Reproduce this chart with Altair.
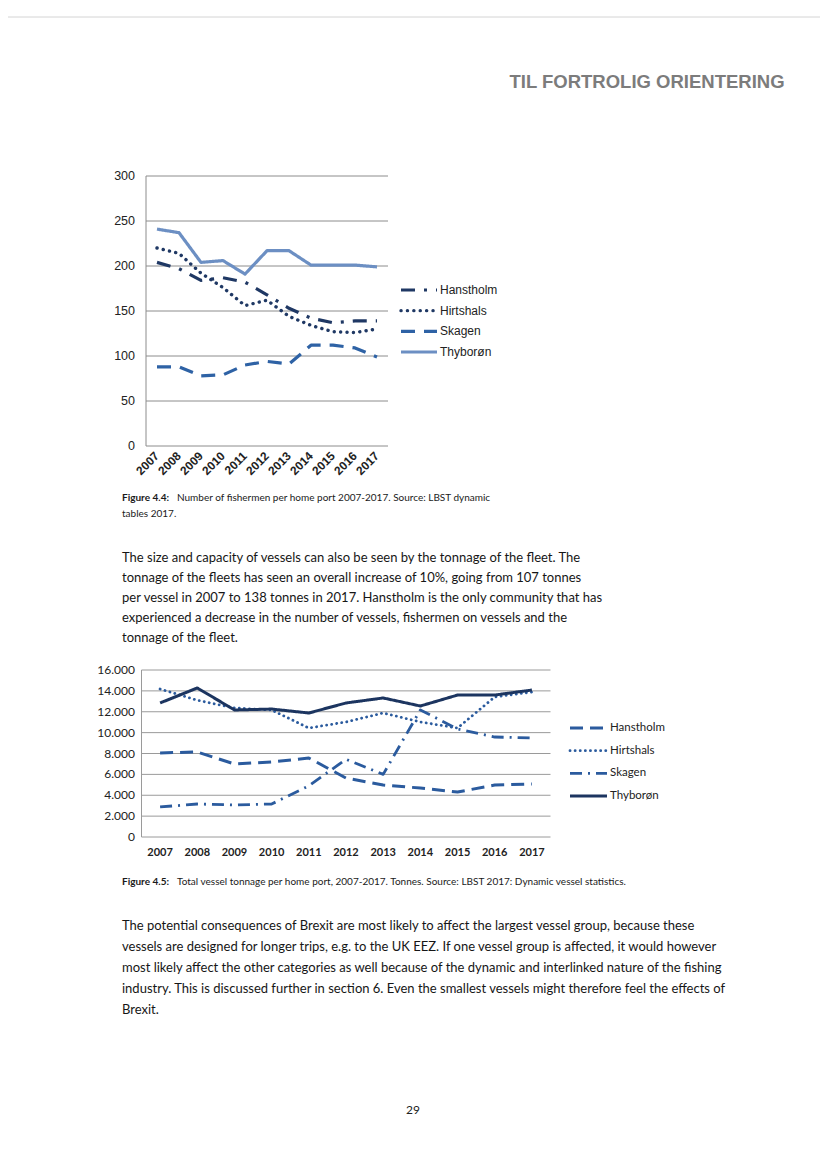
import altair as alt
import pandas as pd

# ---------------- data ----------------
YEARS = list(range(2007, 2018))
PORTS = ["Hanstholm", "Hirtshals", "Skagen", "Thyborøn"]

# Figure 4.4: number of fishermen per home port
FISH_HANSTHOLM = [204, 197, 184, 187, 182, 168, 153, 142, 137, 139, 139]
FISH_HIRTSHALS = [220, 214, 192, 176, 156, 162, 144, 134, 127, 126, 130]
FISH_SKAGEN = [88, 88, 78, 79, 90, 94, 91, 112, 112, 109, 99]
FISH_THYBORON = [241, 237, 204, 206, 191, 217, 217, 201, 201, 201, 199]
FISH_TICKS = [0, 50, 100, 150, 200, 250, 300]
FISH_TICK_LABELS = ["0", "50", "100", "150", "200", "250", "300"]

# Figure 4.5: total vessel tonnage per home port
TON_HANSTHOLM = [8050, 8150, 6990, 7190, 7570, 5650, 4980, 4690, 4310, 4980, 5080]
TON_HIRTSHALS = [14180, 13100, 12360, 12170, 10440, 11020, 11880, 11020, 10440, 13420, 13890]
TON_SKAGEN = [2880, 3160, 3070, 3160, 4900, 7450, 6000, 12170, 10350, 9580, 9490]
TON_THYBORON = [12840, 14280, 12170, 12260, 11880, 12840, 13320, 12550, 13600, 13600, 14080]
TON_TICKS = [0, 2000, 4000, 6000, 8000, 10000, 12000, 14000, 16000]
TON_TICK_LABELS = ["0", "2.000", "4.000", "6.000", "8.000", "10.000", "12.000", "14.000", "16.000"]

HEADER = "TIL FORTROLIG ORIENTERING"
CAP1_BOLD = "Figure 4.4:"
CAP1_LINE1 = "Number of fishermen per home port 2007-2017. Source: LBST dynamic"
CAP1_LINE2 = "tables 2017."
PARA1 = [
    "The size and capacity of vessels can also be seen by the tonnage of the fleet. The",
    "tonnage of the fleets has seen an overall increase of 10%, going from 107 tonnes",
    "per vessel in 2007 to 138 tonnes in 2017. Hanstholm is the only community that has",
    "experienced a decrease in the number of vessels, fishermen on vessels and the",
    "tonnage of the fleet.",
]
CAP2_BOLD = "Figure 4.5:"
CAP2_TEXT = "Total vessel tonnage per home port, 2007-2017. Tonnes. Source: LBST 2017: Dynamic vessel statistics."
PARA2 = [
    "The potential consequences of Brexit are most likely to affect the largest vessel group, because these",
    "vessels are designed for longer trips, e.g. to the UK EEZ. If one vessel group is affected, it would however",
    "most likely affect the other categories as well because of the dynamic and interlinked nature of the fishing",
    "industry. This is discussed further in section 6. Even the smallest vessels might therefore feel the effects of",
    "Brexit.",
]
PAGE_NO = "29"

# ---------------- tables ----------------
def long_table(cols):
    rows = []
    for port, vals in zip(PORTS, cols):
        for y, v in zip(YEARS, vals):
            rows.append({"port": port, "year": y, "value": v})
    return pd.DataFrame(rows)

fish_df = long_table([FISH_HANSTHOLM, FISH_HIRTSHALS, FISH_SKAGEN, FISH_THYBORON])
ton_df = long_table([TON_HANSTHOLM, TON_HIRTSHALS, TON_SKAGEN, TON_THYBORON])
fish_ticks = pd.DataFrame({"v": FISH_TICKS, "label": FISH_TICK_LABELS})
ton_ticks = pd.DataFrame({"v": TON_TICKS, "label": TON_TICK_LABELS})
years_df = pd.DataFrame({"year": YEARS, "label": [str(y) for y in YEARS]})
legend_df = pd.DataFrame({"port": PORTS})
one = alt.Data(values=[{"k": 1}])

# ---------------- layout (page px -> chart px) ----------------
M = 8
def P(v):
    return v - M

W, H = 828 - 2 * M, 1169 - 2 * M

X1 = alt.Scale(domain=[2006.5, 2017.5], range=[P(146), P(388)], nice=False, zero=False)
Y1 = alt.Scale(domain=[0, 300], range=[P(446), P(176)], nice=False, zero=False)
L1 = alt.Scale(type="point", domain=PORTS, range=[P(290), P(352)], padding=0)
X2 = alt.Scale(domain=[2006.5, 2017.5], range=[P(141.5), P(550.5)], nice=False, zero=False)
Y2 = alt.Scale(domain=[0, 16000], range=[P(837), P(670)], nice=False, zero=False)
L2 = alt.Scale(type="point", domain=PORTS, range=[P(728), P(796)], padding=0)

ARIAL = "Liberation Sans"
BODY = "Lato"
GRID1 = "#8c8c8c"
GRID2 = "#9a9a9a"
TEXT_X = 122

layers = []

# faint scan border line at top
layers.append(alt.Chart(one).mark_rule(color="#d4d4d4", strokeWidth=1).encode(
    x=alt.value(0), x2=alt.value(W), y=alt.value(P(17))))

# header stamp
layers.append(alt.Chart(one).mark_text(
    text=HEADER, font=ARIAL, fontWeight="bold", fontSize=18.5, color="#7c7c7c",
    align="center", baseline="alphabetic").encode(x=alt.value(P(647)), y=alt.value(P(88))))

# ---------- chart 1 ----------
layers.append(alt.Chart(fish_ticks).mark_rule(color=GRID1, strokeWidth=1).encode(
    y=alt.Y("v:Q", scale=Y1, axis=None),
    x=alt.datum(2006.5, scale=X1, axis=None), x2=alt.datum(2017.5)))
layers.append(alt.Chart(one).mark_rule(color=GRID1, strokeWidth=1).encode(
    x=alt.datum(2006.5, scale=X1, axis=None),
    y=alt.datum(0, scale=Y1, axis=None), y2=alt.datum(300)))
layers.append(alt.Chart(fish_ticks).mark_text(
    font=ARIAL, fontSize=12.5, color="#222222", align="right", baseline="middle").encode(
    y=alt.Y("v:Q", scale=Y1, axis=None), x=alt.value(P(135)), text="label:N"))
layers.append(alt.Chart(years_df).mark_text(
    font=ARIAL, fontSize=12, fontWeight="bold", color="#222222", angle=315,
    align="right", baseline="middle").encode(
    x=alt.X("year:Q", scale=X1, axis=None), y=alt.value(P(454)), text="label:N"))

style1 = {
    "Hanstholm": dict(color="#1f3864", strokeDash=[14, 9, 3, 9], strokeCap="butt", strokeWidth=3.2),
    "Hirtshals": dict(color="#1f3864", strokeDash=[0.1, 6.3], strokeCap="round", strokeWidth=3.4),
    "Skagen": dict(color="#2e62a5", strokeDash=[14, 9], strokeCap="butt", strokeWidth=3.2),
    "Thyborøn": dict(color="#6c8fc3", strokeDash=[1, 0], strokeCap="butt", strokeWidth=3.2),
}
for port in PORTS:
    st = style1[port]
    layers.append(alt.Chart(fish_df).transform_filter(alt.datum.port == port).mark_line(
        strokeJoin="round", **st).encode(
        x=alt.X("year:Q", scale=X1, axis=None), y=alt.Y("value:Q", scale=Y1, axis=None)))
    layers.append(alt.Chart(legend_df).transform_filter(alt.datum.port == port).mark_rule(**st).encode(
        y=alt.Y("port:N", scale=L1, axis=None), x=alt.value(P(401)), x2=alt.value(P(437))))
layers.append(alt.Chart(legend_df).mark_text(
    font=ARIAL, fontSize=12, color="#222222", align="left", baseline="middle").encode(
    y=alt.Y("port:N", scale=L1, axis=None), x=alt.value(P(440)), text="port:N"))

# caption 1
layers.append(alt.Chart(one).mark_text(
    text=CAP1_BOLD, font=BODY, fontSize=10, fontWeight="bold", color="#1a1a1a",
    align="left", baseline="middle").encode(x=alt.value(P(TEXT_X)), y=alt.value(P(498))))
layers.append(alt.Chart(one).mark_text(
    text=CAP1_LINE1, font=BODY, fontSize=10, color="#1a1a1a",
    align="left", baseline="middle").encode(x=alt.value(P(TEXT_X + 55)), y=alt.value(P(498))))
layers.append(alt.Chart(one).mark_text(
    text=CAP1_LINE2, font=BODY, fontSize=10, color="#1a1a1a",
    align="left", baseline="middle").encode(x=alt.value(P(TEXT_X)), y=alt.value(P(514))))

# paragraph 1
layers.append(alt.Chart(one).mark_text(
    text=PARA1, font=BODY, fontSize=13, lineHeight=20, color="#161616",
    align="left", baseline="middle").encode(x=alt.value(P(TEXT_X)), y=alt.value(P(558))))

# ---------- chart 2 ----------
layers.append(alt.Chart(ton_ticks).mark_rule(color=GRID2, strokeWidth=1).encode(
    y=alt.Y("v:Q", scale=Y2, axis=None),
    x=alt.datum(2006.5, scale=X2, axis=None), x2=alt.datum(2017.5)))
layers.append(alt.Chart(one).mark_rule(color=GRID2, strokeWidth=1).encode(
    x=alt.datum(2006.5, scale=X2, axis=None),
    y=alt.datum(0, scale=Y2, axis=None), y2=alt.datum(16000)))
layers.append(alt.Chart(ton_ticks).mark_text(
    font=BODY, fontSize=12, color="#222222", align="right", baseline="middle").encode(
    y=alt.Y("v:Q", scale=Y2, axis=None), x=alt.value(P(135)), text="label:N"))
layers.append(alt.Chart(years_df).mark_text(
    font=BODY, fontSize=11, fontWeight="bold", color="#222222",
    align="center", baseline="middle").encode(
    x=alt.X("year:Q", scale=X2, axis=None), y=alt.value(P(853)), text="label:N"))

style2 = {
    "Hanstholm": dict(color="#2b5b9e", strokeDash=[13, 7], strokeCap="butt", strokeWidth=3),
    "Hirtshals": dict(color="#2b5b9e", strokeDash=[0.1, 5], strokeCap="round", strokeWidth=2.8),
    "Skagen": dict(color="#2b5b9e", strokeDash=[12, 6, 2, 6], strokeCap="butt", strokeWidth=2.8),
    "Thyborøn": dict(color="#1c3560", strokeDash=[1, 0], strokeCap="butt", strokeWidth=3),
}
for port in PORTS:
    st = style2[port]
    layers.append(alt.Chart(ton_df).transform_filter(alt.datum.port == port).mark_line(
        strokeJoin="round", **st).encode(
        x=alt.X("year:Q", scale=X2, axis=None), y=alt.Y("value:Q", scale=Y2, axis=None)))
    layers.append(alt.Chart(legend_df).transform_filter(alt.datum.port == port).mark_rule(**st).encode(
        y=alt.Y("port:N", scale=L2, axis=None), x=alt.value(P(570)), x2=alt.value(P(607))))
layers.append(alt.Chart(legend_df).mark_text(
    font=BODY, fontSize=11.5, color="#222222", align="left", baseline="middle").encode(
    y=alt.Y("port:N", scale=L2, axis=None), x=alt.value(P(610)), text="port:N"))

# caption 2
layers.append(alt.Chart(one).mark_text(
    text=CAP2_BOLD, font=BODY, fontSize=10, fontWeight="bold", color="#1a1a1a",
    align="left", baseline="middle").encode(x=alt.value(P(TEXT_X)), y=alt.value(P(882))))
layers.append(alt.Chart(one).mark_text(
    text=CAP2_TEXT, font=BODY, fontSize=10, color="#1a1a1a",
    align="left", baseline="middle").encode(x=alt.value(P(TEXT_X + 55)), y=alt.value(P(882))))

# paragraph 2
layers.append(alt.Chart(one).mark_text(
    text=PARA2, font=BODY, fontSize=13, lineHeight=21, color="#161616",
    align="left", baseline="middle").encode(x=alt.value(P(TEXT_X)), y=alt.value(P(926))))

# page number
layers.append(alt.Chart(one).mark_text(
    text=PAGE_NO, font=BODY, fontSize=12, color="#222222",
    align="center", baseline="middle").encode(x=alt.value(P(413)), y=alt.value(P(1110))))

chart = alt.layer(*layers).resolve_scale(x="independent", y="independent").properties(
    width=W, height=H, autosize=alt.AutoSizeParams(type="none"), padding=0,
    background="white",
).configure_view(stroke=None)

chart.save("out.html", embed_options={"renderer": "svg", "actions": False})
